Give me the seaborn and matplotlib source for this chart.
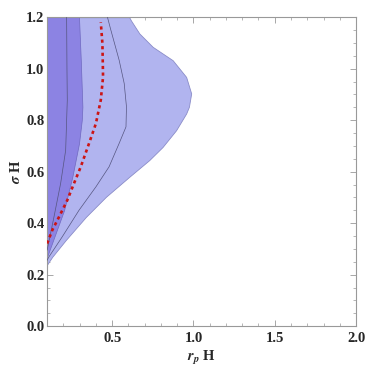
import matplotlib
matplotlib.use("Agg")
import matplotlib.pyplot as plt
import numpy as np
import pandas as pd
import seaborn as sns
from matplotlib.ticker import MultipleLocator

sns.set_style("ticks")
plt.rcParams.update({'font.family'      : ['Liberation Serif', 'DejaVu Serif'],
                     'font.weight'      : 'bold',
                     'font.size'        : 10,
                     'mathtext.fontset' : 'stix',
                     'xtick.direction'  : 'in',
                     'ytick.direction'  : 'in'})

#-- outer (light) region boundary --
outer_sigma  = [0.23, 0.269, 0.334, 0.424, 0.502, 0.58, 0.645, 0.696, 0.761, 0.826, 0.852, 0.904,
                0.968, 1.033, 1.085, 1.137, 1.188, 1.2]
outer_rp     = [0.09, 0.131, 0.214, 0.338, 0.461, 0.605, 0.728, 0.81, 0.893, 0.955, 0.972, 0.986,
                0.955, 0.872, 0.749, 0.667, 0.615, 0.605]
#-- inner (dark) region boundary --
inner_sigma  = [0.27, 0.36, 0.45, 0.58, 0.71, 0.80, 0.852, 1.033, 1.2]
inner_rp     = [0.10, 0.152, 0.204, 0.255, 0.296, 0.313, 0.317, 0.307, 0.296]
#-- contour line in dark region --
line1_sigma  = [0.295, 0.424, 0.554, 0.683, 0.878, 1.0, 1.2]
line1_rp     = [0.10, 0.142, 0.183, 0.214, 0.224, 0.222, 0.22]
#-- contour line in light region --
line2_sigma  = [0.245, 0.269, 0.347, 0.45, 0.541, 0.619, 0.71, 0.774, 0.852, 0.943, 1.033, 1.15, 1.2]
line2_rp     = [0.09, 0.111, 0.193, 0.296, 0.40, 0.481, 0.543, 0.585, 0.588, 0.574, 0.543, 0.492, 0.471]
#-- red dashed curve --
red_sigma    = [0.321, 0.373, 0.424, 0.489, 0.554, 0.619, 0.71, 0.787, 0.878, 0.968, 1.098, 1.18]
red_rp       = [0.10, 0.132, 0.173, 0.224, 0.265, 0.307, 0.358, 0.40, 0.43, 0.444, 0.44, 0.43]

fig = plt.figure(figsize=(3.74, 3.74), dpi=100)
ax = fig.add_axes([0.126, 0.128, 0.826, 0.826])

ax.fill_betweenx(outer_sigma, 0.1, outer_rp, color='#b1b4ef', edgecolor='#8a8cc8', linewidth=0.6, zorder=1)
ax.fill_betweenx(inner_sigma, 0.1, inner_rp, color='#8c83e3', edgecolor='#6f68c0', linewidth=0.5, zorder=2)

df1 = pd.DataFrame({'rp': line1_rp, 'sigma': line1_sigma})
df2 = pd.DataFrame({'rp': line2_rp, 'sigma': line2_sigma})
dfr = pd.DataFrame({'rp': red_rp, 'sigma': red_sigma})
sns.lineplot(data=df1, x='rp', y='sigma', sort=False, orient='y', ax=ax, color='#555580', linewidth=0.5, zorder=3)
sns.lineplot(data=df2, x='rp', y='sigma', sort=False, orient='y', ax=ax, color='#555580', linewidth=0.5, zorder=3)
sns.lineplot(data=dfr, x='rp', y='sigma', sort=False, orient='y', ax=ax, color='#cc1414', linewidth=1.9,
             linestyle=(0, (1.2, 1.3)), zorder=4)

ax.set_xlim(0.1, 2.0)
ax.set_ylim(0.0, 1.2)
ax.xaxis.set_major_locator(MultipleLocator(0.5))
ax.xaxis.set_minor_locator(MultipleLocator(0.1))
ax.yaxis.set_major_locator(MultipleLocator(0.2))
ax.yaxis.set_minor_locator(MultipleLocator(0.05))
ax.set_xticks([0.5, 1.0, 1.5, 2.0])
ax.tick_params(which='both', top=True, right=True, color='#999999', labelsize=10.5)
ax.tick_params(which='major', length=4, width=0.6)
ax.tick_params(axis='x', which='major', pad=4)
ax.tick_params(axis='y', which='major', pad=2)
ax.tick_params(which='minor', length=2, width=0.5)
for s in ax.spines.values():
    s.set_color('#999999')
    s.set_linewidth(0.8)

ax.set_xlabel(r'$r_p$ H', fontsize=10.5, fontweight='bold', labelpad=3)
ax.set_ylabel(r'$\sigma$ H', fontsize=10.5, fontweight='bold', labelpad=2)

plt.savefig('out.png', dpi=100)
